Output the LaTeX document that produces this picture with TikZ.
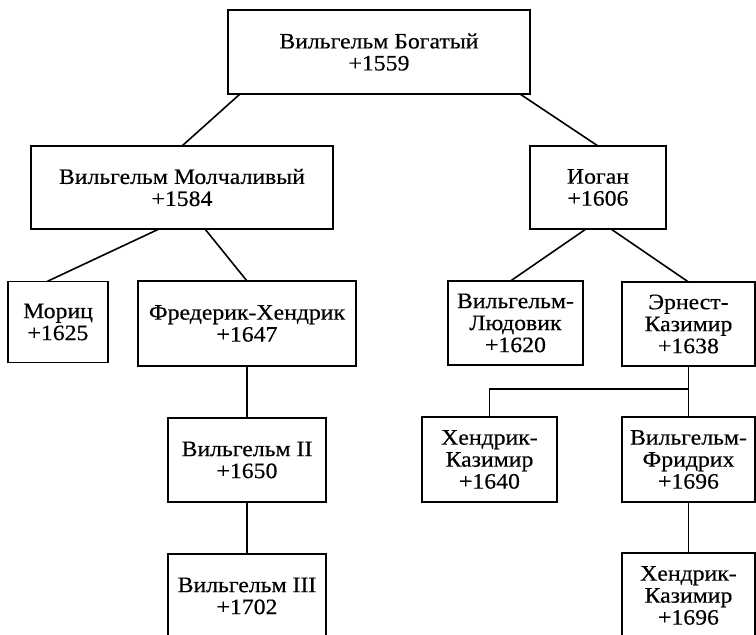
\documentclass[tikz,border=0pt]{standalone}
\usepackage{fontspec}
\setmainfont[FakeStretch=1.08,FakeBold=0.4]{Liberation Serif}
\usepackage{tikz}

\begin{document}
\begin{tikzpicture}[x=1pt,y=-1pt,
        rulerbox/.style={draw, line width=1.6pt, align=center, inner sep=0pt, outer sep=0pt,
            font=\fontsize{22}{22}\selectfont},
        link/.style={line width=1.6pt}]
        \clip (0,0) rectangle (756,635);
        \fill[white] (0,0) rectangle (756,635);

        % first generations
        \node[rulerbox, minimum width=302pt, minimum height=84pt] (top) at (379,52) {Вильгельм Богатый\\+1559};
        \node[rulerbox, minimum width=302pt, minimum height=83pt] (wm) at (182,187.5) {Вильгельм Молчаливый\\+1584};
        \node[rulerbox, minimum width=136pt, minimum height=83pt] (iogan) at (598,187.5) {Иоган\\+1606};

        \node[rulerbox, minimum width=100pt, minimum height=81pt] (moric) at (58,322) {Мориц\\+1625};
        \node[rulerbox, minimum width=218pt, minimum height=85pt] (fred) at (247,323.5) {Фредерик-Хендрик\\+1647};
        \node[rulerbox, minimum width=135pt, minimum height=84pt] (vl) at (515.5,323) {Вильгельм-\\Людовик\\+1620};
        \node[rulerbox, minimum width=133pt, minimum height=84pt] (ek) at (688.5,324) {Эрнест-\\Казимир\\+1638};

        % later generations
        \node[rulerbox, minimum width=158pt, minimum height=84pt] (v2) at (247,460) {Вильгельм II\\+1650};
        \node[rulerbox, minimum width=158pt, minimum height=84pt] (v3) at (247,596) {Вильгельм III\\+1702};
        \node[rulerbox, minimum width=135pt, minimum height=85pt] (hk) at (489.5,459.5) {Хендрик-\\Казимир\\+1640};
        \node[rulerbox, minimum width=133pt, minimum height=85pt] (vf) at (688.5,459.5) {Вильгельм-\\Фридрих\\+1696};
        \node[rulerbox, minimum width=133pt, minimum height=85pt] (hk2) at (688.5,595.5) {Хендрик-\\Казимир\\+1696};

        \coordinate (ekfork) at (688.5,389);

        \draw[link] ([xshift=12pt]top.south west) -- (wm.north);
        \draw[link] ([xshift=-10pt]top.south east) -- (iogan.north);
        \draw[link] ([xshift=-23pt]wm.south) -- ([xshift=-11pt]moric.north);
        \draw[link] ([xshift=23pt]wm.south) -- (fred.north);
        \draw[link] ([xshift=-12pt]iogan.south) -- ([xshift=-5pt]vl.north);
        \draw[link] ([xshift=13pt]iogan.south) -- (ek.north);
        \draw[link] (fred.south) -- (v2.north);
        \draw[link] (v2.south) -- (v3.north);
        \draw[link] (ek.south) -- (vf.north);
        \draw[link] (ekfork) -| (hk.north);
        \draw[link] (vf.south) -- (hk2.north);
    \end{tikzpicture}
\end{document}
